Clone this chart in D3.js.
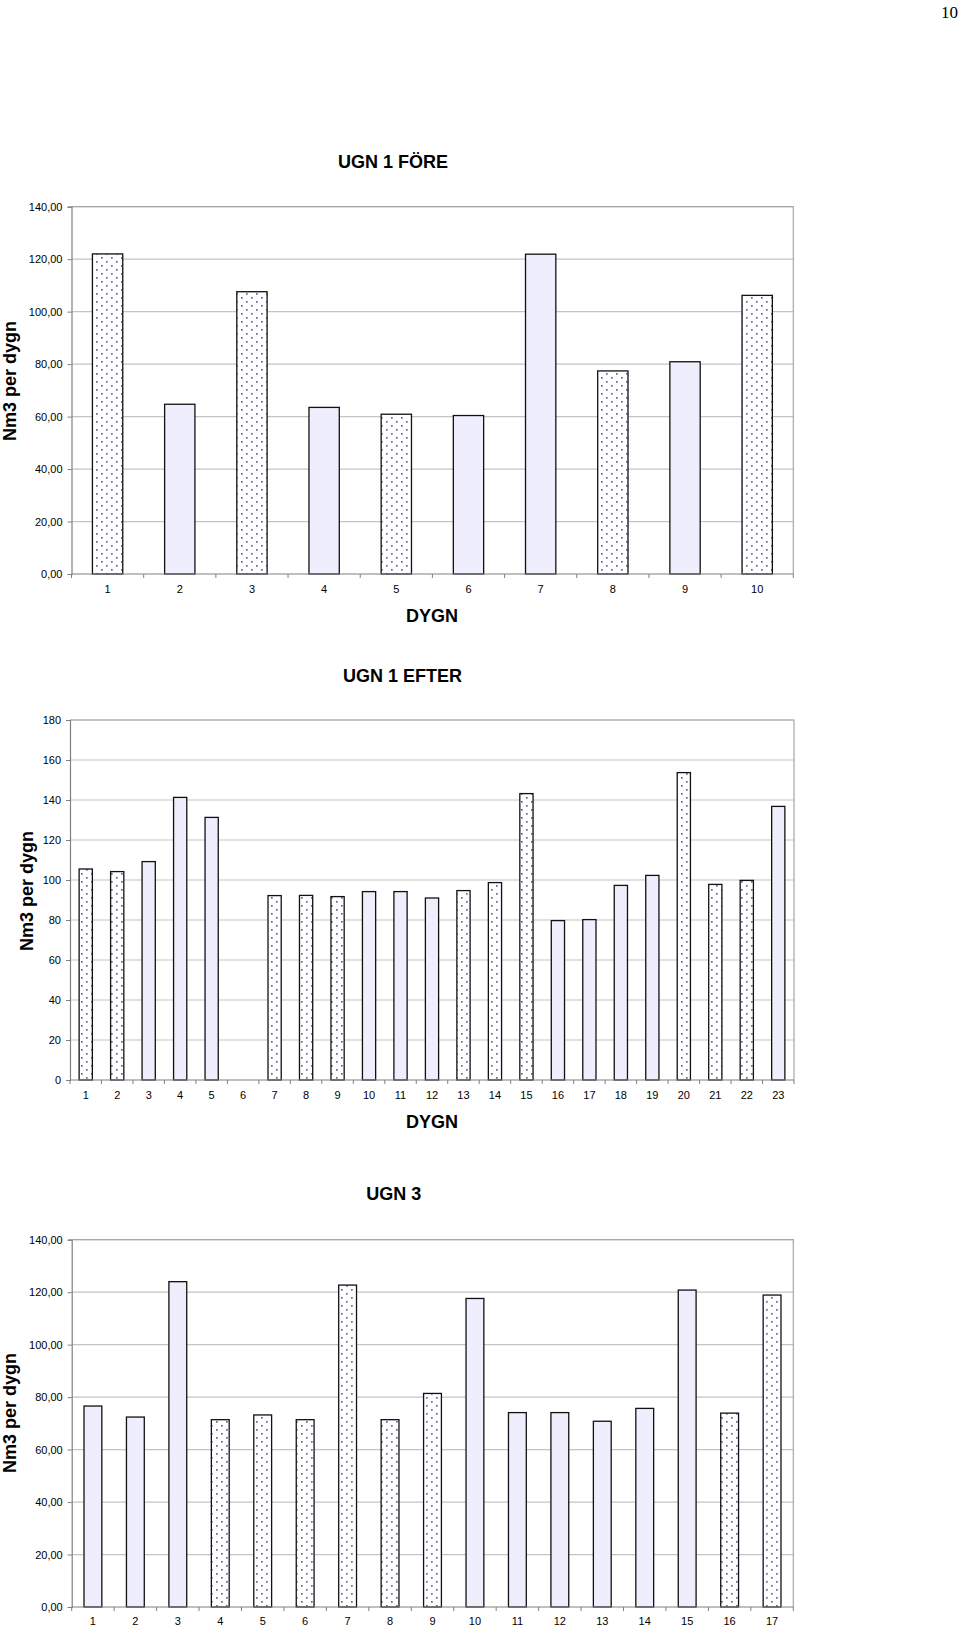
<!DOCTYPE html>
<html>
<head>
<meta charset="utf-8">
<script src="https://cdn.jsdelivr.net/npm/d3@7"></script>
<style>
  html, body { margin: 0; padding: 0; background: #fff; }
  svg { display: block; }
</style>
</head>
<body>
<svg id="page" width="960" height="1629"></svg>
<script>
// ---------------- DATA ----------------
const pageNumber = "10";

// UGN 1 FÖRE
const foreTitle = "UGN 1 FÖRE";
const foreCategories = ["1","2","3","4","5","6","7","8","9","10"];
const foreValues = [122.0, 64.7, 107.6, 63.5, 60.9, 60.4, 121.9, 77.4, 80.9, 106.2];
const foreDotted = [true, false, true, false, true, false, false, true, false, true];
const foreTicks = [0, 20, 40, 60, 80, 100, 120, 140];

// UGN 1 EFTER
const efterTitle = "UGN 1 EFTER";
const efterCategories = ["1","2","3","4","5","6","7","8","9","10","11","12","13","14","15","16","17","18","19","20","21","22","23"];
const efterValues = [105.5, 104.2, 109.2, 141.3, 131.3, 0, 92.2, 92.3, 91.7, 94.2, 94.2, 91.0, 94.7, 98.7, 143.2, 79.7, 80.2, 97.3, 102.3, 153.7, 97.8, 99.8, 136.8];
const efterDotted = [true, true, false, false, false, false, true, true, true, false, false, false, true, true, true, false, false, false, false, true, true, true, false];
const efterTicks = [0, 20, 40, 60, 80, 100, 120, 140, 160, 180];

// UGN 3
const ugn3Title = "UGN 3";
const ugn3Categories = ["1","2","3","4","5","6","7","8","9","10","11","12","13","14","15","16","17"];
const ugn3Values = [76.6, 72.4, 124.0, 71.4, 73.2, 71.4, 122.7, 71.4, 81.4, 117.6, 74.1, 74.1, 70.8, 75.7, 120.8, 73.9, 118.9];
const ugn3Dotted = [false, false, false, true, true, true, true, true, true, false, false, false, false, false, false, true, true];
const ugn3Ticks = [0, 20, 40, 60, 80, 100, 120, 140];

const yLabel = "Nm3 per dygn";
const xLabel = "DYGN";

// ---------------- DRAW ----------------
const svg = d3.select("#page");
const FONT = "'Liberation Sans', Arial, sans-serif";

const defs = svg.append("defs");
const pat = defs.append("pattern")
  .attr("id", "dots")
  .attr("patternUnits", "userSpaceOnUse")
  .attr("width", 10).attr("height", 8);
pat.append("rect").attr("width", 10).attr("height", 8).attr("fill", "#ffffff");
pat.append("rect").attr("x", 1).attr("y", 1).attr("width", 1.7).attr("height", 1.7).attr("fill", "#6464ac");
pat.append("rect").attr("x", 6).attr("y", 5).attr("width", 1.7).attr("height", 1.7).attr("fill", "#6464ac");

svg.append("text")
  .attr("x", 958).attr("y", 18)
  .attr("text-anchor", "end")
  .attr("font-family", "'Liberation Serif', 'Times New Roman', serif")
  .attr("font-size", 17)
  .text(pageNumber);

const locale = d3.formatLocale({decimal: ",", thousands: " ", grouping: [3], currency: ["", ""]});
const fmt2 = locale.format(".2f");
const fmt0 = locale.format("d");

function drawChart(cfg) {
  const g = svg.append("g");
  const {left, right, top, bottom} = cfg;
  const y = d3.scaleLinear().domain([0, cfg.max]).range([bottom, top]);
  const x = d3.scaleBand().domain(cfg.categories).range([left, right])
    .paddingInner(0.58).paddingOuter(0.29);
  const x0 = d3.scaleBand().domain(cfg.categories).range([left, right]).padding(0);

  // gridlines
  g.append("g").selectAll("line").data(cfg.ticks.filter(t => t > 0)).join("line")
    .attr("x1", left).attr("x2", right)
    .attr("y1", d => y(d)).attr("y2", d => y(d))
    .attr("stroke", "#c4c4c4").attr("stroke-width", 1.2);

  // top / right frame
  g.append("path")
    .attr("d", `M${left},${top}H${right}V${bottom}`)
    .attr("fill", "none").attr("stroke", "#a8a8a8").attr("stroke-width", 1.2);

  // bars
  g.append("g").selectAll("rect").data(cfg.values.map((v, i) => ({c: cfg.categories[i], v, dot: cfg.dotted[i]})).filter(d => d.v > 0))
    .join("rect")
    .attr("x", d => x(d.c))
    .attr("y", d => y(d.v))
    .attr("width", x.bandwidth())
    .attr("height", d => y(0) - y(d.v))
    .attr("fill", d => d.dot ? "url(#dots)" : "#eeeefc")
    .attr("stroke", "#111")
    .attr("stroke-width", 1.3);

  // y axis
  const yAxis = d3.axisLeft(y).tickValues(cfg.ticks).tickSize(4).tickPadding(5)
    .tickFormat(cfg.decimals ? fmt2 : fmt0);
  const ya = g.append("g").attr("transform", `translate(${left},0)`).call(yAxis);
  ya.select(".domain").attr("stroke", "#808080").attr("stroke-width", 1.2);
  ya.selectAll(".tick line").attr("stroke", "#808080");
  ya.selectAll("text").attr("font-family", FONT).attr("font-size", 11).attr("fill", "#000");

  // x axis: labels at band centres, ticks at band boundaries
  const xAxis = d3.axisBottom(x).tickSize(0).tickPadding(cfg.xLabelPad);
  const xa = g.append("g").attr("transform", `translate(0,${bottom})`).call(xAxis);
  xa.select(".domain").remove();
  xa.selectAll("text").attr("font-family", FONT).attr("font-size", 11).attr("fill", "#000");
  const bounds = cfg.categories.map(c => x0(c)).concat([x0(cfg.categories[cfg.categories.length - 1]) + x0.bandwidth()]);
  g.append("g").selectAll("line").data(bounds).join("line")
    .attr("x1", d => d).attr("x2", d => d)
    .attr("y1", bottom).attr("y2", bottom + 4)
    .attr("stroke", "#808080");
  g.append("line").attr("x1", left).attr("x2", right).attr("y1", bottom).attr("y2", bottom)
    .attr("stroke", "#808080").attr("stroke-width", 1.2);

  // title
  g.append("text").attr("x", cfg.titleX).attr("y", cfg.titleY)
    .attr("text-anchor", "middle").attr("dominant-baseline", "central")
    .attr("font-family", FONT).attr("font-weight", "bold").attr("font-size", 18)
    .text(cfg.title);

  // x label
  if (cfg.showXLabel) {
    g.append("text").attr("x", 432).attr("y", cfg.xLabelY)
      .attr("text-anchor", "middle").attr("dominant-baseline", "central")
      .attr("font-family", FONT).attr("font-weight", "bold").attr("font-size", 18)
      .text(xLabel);
  }

  // y label
  g.append("text")
    .attr("transform", `translate(${cfg.yLabelX},${cfg.yLabelY}) rotate(-90)`)
    .attr("text-anchor", "middle").attr("dominant-baseline", "central")
    .attr("font-family", FONT).attr("font-weight", "bold").attr("font-size", 18)
    .text(yLabel);
}

drawChart({
  title: foreTitle, categories: foreCategories, values: foreValues, dotted: foreDotted,
  ticks: foreTicks, max: 140, decimals: true,
  left: 71.5, right: 793.3, top: 206.7, bottom: 574,
  titleX: 393, titleY: 162, xLabelPad: 11, showXLabel: true, xLabelY: 616,
  yLabelX: 10, yLabelY: 381
});

drawChart({
  title: efterTitle, categories: efterCategories, values: efterValues, dotted: efterDotted,
  ticks: efterTicks, max: 180, decimals: false,
  left: 70, right: 794, top: 720, bottom: 1080,
  titleX: 402.5, titleY: 676, xLabelPad: 11, showXLabel: true, xLabelY: 1121.7,
  yLabelX: 27, yLabelY: 891
});

drawChart({
  title: ugn3Title, categories: ugn3Categories, values: ugn3Values, dotted: ugn3Dotted,
  ticks: ugn3Ticks, max: 140, decimals: true,
  left: 71.7, right: 793.3, top: 1239.7, bottom: 1607,
  titleX: 393.7, titleY: 1194.3, xLabelPad: 10, showXLabel: false, xLabelY: 0,
  yLabelX: 10, yLabelY: 1413
});
</script>
</body>
</html>
